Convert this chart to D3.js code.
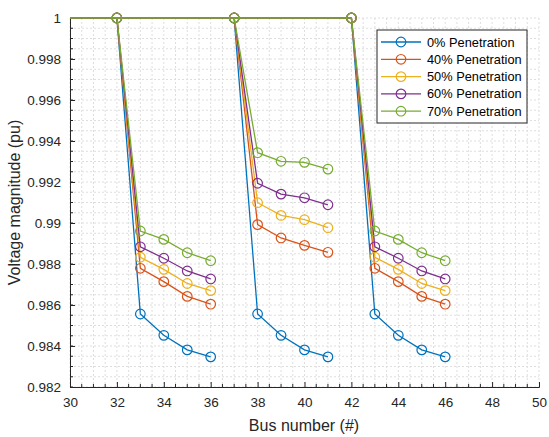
<!DOCTYPE html>
<html><head><meta charset="utf-8">
<script src="https://cdn.jsdelivr.net/npm/d3@7"></script>
<style>body{margin:0;background:#fff}svg{display:block;font-family:"Liberation Sans",Arial,sans-serif}</style>
</head><body><svg id="c" width="549" height="437"></svg>
<script>
const seriesNames = ["0% Penetration","40% Penetration","50% Penetration","60% Penetration","70% Penetration"];
const colors = ["#0072BD","#D95319","#EDB120","#7E2F8E","#77AC30"];
const feederX = [30, 32, 37, 42];
const feederY = [1, 1, 1, 1];
const feederMarkers = [32, 37, 42];
const branchStart = [32, 37, 42];
const branch1X = [33, 34, 35, 36];
const branch2X = [38, 39, 40, 41];
const branch3X = [43, 44, 45, 46];
const branch1Vals = [
  [0.98556, 0.98452, 0.98381, 0.98347],
  [0.98779, 0.98714, 0.98642, 0.98604],
  [0.98833, 0.98774, 0.98705, 0.98670],
  [0.98884, 0.98828, 0.98766, 0.98727],
  [0.98961, 0.98920, 0.98855, 0.98816]
];
const branch2Vals = [
  [0.98556, 0.98452, 0.98381, 0.98347],
  [0.98992, 0.98927, 0.98891, 0.98857],
  [0.99099, 0.99037, 0.99016, 0.98977],
  [0.99194, 0.99141, 0.99123, 0.99089],
  [0.99343, 0.99301, 0.99296, 0.99263]
];
const branch3Vals = [
  [0.98556, 0.98452, 0.98381, 0.98347],
  [0.98779, 0.98714, 0.98642, 0.98604],
  [0.98833, 0.98774, 0.98705, 0.98670],
  [0.98884, 0.98828, 0.98766, 0.98727],
  [0.98961, 0.98920, 0.98855, 0.98816]
];
const xTicks = [30,32,34,36,38,40,42,44,46,48,50];
const yTicks = [0.982,0.984,0.986,0.988,0.99,0.992,0.994,0.996,0.998,1];
const yTickLabels = ["0.982","0.984","0.986","0.988","0.99","0.992","0.994","0.996","0.998","1"];

const svg = d3.select("#c");
const L = 70, R = 539, T = 18, B = 387;
const x = d3.scaleLinear().domain([30,50]).range([L,R]);
const y = d3.scaleLinear().domain([0.982,1]).range([B,T]);
const axCol = "#262626";
const FONT = '"Liberation Sans",Arial,sans-serif';

const g = svg.append("g");
const xMinor = d3.range(30, 50.001, 0.5);
const yMinor = d3.range(0, 37).map(i => 0.982 + i*0.0005);
g.selectAll(".gx").data(xMinor).join("line")
  .attr("x1", d=>x(d)).attr("x2", d=>x(d)).attr("y1", T).attr("y2", B)
  .attr("stroke", "#dedede").attr("stroke-width", 1).attr("stroke-dasharray", "2,2");
g.selectAll(".gy").data(yMinor).join("line")
  .attr("y1", d=>y(d)).attr("y2", d=>y(d)).attr("x1", L).attr("x2", R)
  .attr("stroke", "#dedede").attr("stroke-width", 1).attr("stroke-dasharray", "2,2");

const xa = svg.append("g").attr("transform", `translate(0,${B})`)
  .call(d3.axisBottom(x).tickValues(xTicks).tickSize(-5).tickPadding(10).tickFormat(d3.format("d")));
const ya = svg.append("g").attr("transform", `translate(${L},0)`)
  .call(d3.axisLeft(y).tickValues(yTicks).tickSize(-5).tickPadding(9).tickFormat((d,i)=>yTickLabels[i]));
[xa, ya].forEach(a => {
  a.select(".domain").attr("stroke", axCol);
  a.selectAll(".tick line").attr("stroke", axCol);
  a.selectAll("text").attr("fill", axCol).attr("font-size", 13.5).attr("font-family", FONT);
});
xa.selectAll(".mt").data(xMinor.filter(v => v % 2 !== 0)).join("line")
  .attr("x1", d=>x(d)).attr("x2", d=>x(d)).attr("y1", 0).attr("y2", -3).attr("stroke", axCol);
ya.selectAll(".mt").data(yMinor).join("line")
  .attr("y1", d=>y(d)).attr("y2", d=>y(d)).attr("x1", 0).attr("x2", 3).attr("stroke", axCol);

const line = d3.line().x(d=>x(d[0])).y(d=>y(d[1]));
const plot = svg.append("g");
seriesNames.forEach((name, s) => {
  const col = colors[s];
  const segs = [
    feederX.map((v,i)=>[v, feederY[i]]),
    [[branchStart[0],1]].concat(branch1X.map((v,i)=>[v, branch1Vals[s][i]])),
    [[branchStart[1],1]].concat(branch2X.map((v,i)=>[v, branch2Vals[s][i]])),
    [[branchStart[2],1]].concat(branch3X.map((v,i)=>[v, branch3Vals[s][i]]))
  ];
  const sg = plot.append("g");
  segs.forEach(seg => {
    sg.append("path").attr("d", line(seg)).attr("fill","none").attr("stroke",col).attr("stroke-width",1.3);
  });
  const pts = feederMarkers.map(v=>[v,1])
    .concat(branch1X.map((v,i)=>[v, branch1Vals[s][i]]))
    .concat(branch2X.map((v,i)=>[v, branch2Vals[s][i]]))
    .concat(branch3X.map((v,i)=>[v, branch3Vals[s][i]]));
  sg.selectAll("circle").data(pts).join("circle")
    .attr("cx", d=>x(d[0])).attr("cy", d=>y(d[1])).attr("r", 4.8)
    .attr("fill","none").attr("stroke",col).attr("stroke-width",1.2);
});

svg.append("text").attr("x", 304).attr("y", 431).attr("text-anchor","middle")
  .attr("font-size", 16).attr("fill", axCol).text("Bus number (#)");
svg.append("text").attr("transform", `translate(20,${(T+B)/2}) rotate(-90)`).attr("text-anchor","middle")
  .attr("font-size", 16).attr("fill", axCol).text("Voltage magnitude (pu)");

const lg = svg.append("g").attr("transform","translate(377,30)");
lg.append("rect").attr("x",0).attr("y",0).attr("width",150).attr("height",93)
  .attr("fill","#fff").attr("stroke","#262626").attr("stroke-width",1);
seriesNames.forEach((name,i)=>{
  const yy = 12 + i*17.3;
  lg.append("line").attr("x1",4).attr("x2",44).attr("y1",yy).attr("y2",yy).attr("stroke",colors[i]).attr("stroke-width",1.3);
  lg.append("circle").attr("cx",24).attr("cy",yy).attr("r",4.8).attr("fill","none").attr("stroke",colors[i]).attr("stroke-width",1.2);
  lg.append("text").attr("x",50).attr("y",yy+4.5).attr("font-size",12.8).attr("fill","#000").text(name);
});
</script></body></html>
